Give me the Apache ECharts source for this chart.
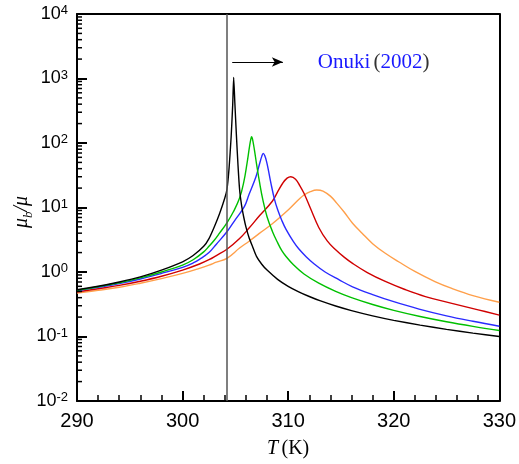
<!DOCTYPE html>
<html><head><meta charset="utf-8">
<script src="https://cdn.jsdelivr.net/npm/echarts@6/dist/echarts.min.js"></script>
<style>html,body{margin:0;padding:0;background:#fff}#c{width:519px;height:464px}#e{position:absolute;left:90px;top:350px;font:11px monospace;color:#c00;width:400px}</style>
</head><body><div id="c"></div><div id="e"></div>
<script>
window.onerror = function (m, s, l) { document.getElementById('e').textContent += ' ERR:' + m + ' @' + l; };
// ---- data (T in K, value mu_b/mu) ----
const blackT = [290,292,294,296,298,300,301,302,302.5,303,303.5,304,304.2,304.4,304.6,304.75,304.84,304.95,305.1,305.25,305.4,305.6,305.8,306,306.3,306.6,307,307.5,308,309,310,311,312,313,314.5,316,318,320,322.5,325,327.5,330];
const blackV = [0.53,0.60,0.70,0.84,1.07,1.44,1.8,2.5,3.3,5.0,8.0,14,19,40,125,400,1040,420,130,45,19,10.5,7.0,5.0,3.4,2.55,1.75,1.32,1.07,0.77,0.60,0.493,0.417,0.359,0.297,0.252,0.209,0.178,0.150,0.129,0.113,0.10];

const greenT = [290,292,294,296,298,300,301,302,302.5,303,303.5,304.2,304.8,305.4,305.8,306.1,306.35,306.47,306.54,306.62,306.8,307.0,307.3,307.6,308,308.5,309,309.4,309.8,310.5,311.5,312.9,314.5,316,318,320,322.5,325,327.5,330];
const greenV = [0.52,0.59,0.68,0.81,1.0,1.28,1.55,2.05,2.5,3.1,4.0,5.8,8.5,14,25,48,90,116,125,116,79,48,24,13.2,7.2,4.3,2.85,2.14,1.74,1.29,0.93,0.67,0.50,0.40,0.313,0.254,0.204,0.169,0.1435,0.124];

const blueT = [290,292,294,296,298,300,301,301.6,302.5,303.2,304.2,305,305.85,306.3,306.95,307.3,307.5,307.64,307.78,307.95,308.1,308.37,308.7,309,309.4,309.8,310.5,311,311.7,312.5,313.5,314.8,316.1,318,320,322.4,325,327.5,330];
const blueV = [0.51,0.58,0.66,0.78,0.95,1.18,1.38,1.57,2.0,2.7,4.2,6.5,10.3,16,30,48,62,69,64,52,40,23.7,13.5,9.3,6.3,4.57,2.95,2.29,1.73,1.32,1.0,0.76,0.59,0.447,0.347,0.266,0.209,0.172,0.144];

const redT = [290,292,294,296,298,300,301.6,302.5,303.2,304.2,305.4,306.3,307.3,308.5,309.0,309.5,309.9,310.25,310.7,311.1,311.5,312.1,312.9,313.7,314.5,315.3,316.1,317.5,319.2,321,323,325.5,328,330];
const redV = [0.49,0.55,0.62,0.72,0.86,1.07,1.33,1.55,1.8,2.25,3.3,4.8,7.5,12.5,17.5,24,28.5,30,27.5,21.9,16.6,9.8,4.9,3.03,2.21,1.70,1.36,0.98,0.713,0.54,0.416,0.327,0.259,0.215];

const orangeT = [290,292,294,296,298,300,301.6,302.5,303.2,304.2,305.4,306.3,307.3,308.5,310.1,311,311.5,312.1,312.7,313.3,314,314.6,315.3,316.1,317,318,319.2,320.5,322,323.9,325.5,327.5,330];
const orangeV = [0.47,0.52,0.58,0.67,0.79,0.95,1.14,1.28,1.42,1.63,2.35,3.0,4.0,5.6,9.5,13.3,15.6,17.6,18.7,18.0,15.0,11.7,8.5,5.7,4.0,2.75,1.95,1.43,1.02,0.71,0.556,0.431,0.34];

const Tc = 304.2;
const arrowFrom = [304.7, 1800];
const arrowTo = [309.5, 1800];
const noteAt = [312.8, 1800];

// ---- build ----
const pairs = (t, v) => t.map((x, i) => [x, v[i]]);
const minorVals = [];
for (let k = -2; k < 4; k++) for (let m = 2; m <= 9; m++) minorVals.push([290, m * Math.pow(10, k)]);

const sans = 'Liberation Sans, Arial, sans-serif';
const serif = 'Liberation Serif, Times New Roman, serif';

function line(data, color, sm) {
  return { type: 'line', data, symbol: 'none', smooth: sm, lineStyle: { color, width: 1.4 } };
}
const plainAxis = (pos, extra) => Object.assign({
  position: pos, axisLine: { show: true, onZero: false, lineStyle: { color: '#000', width: 2 } },
  axisTick: { show: false }, axisLabel: { show: false }, splitLine: { show: false }
}, extra);

const chart = echarts.init(document.getElementById('c'));
try {
chart.setOption({
  animation: false,
  grid: { left: 77, right: 18, top: 14, bottom: 63 },
  xAxis: [{
    type: 'value', min: 290, max: 330, interval: 10, position: 'bottom',
    axisLine: { show: true, onZero: false, lineStyle: { color: '#000', width: 2 } },
    axisTick: { show: true, inside: true, length: 10, lineStyle: { color: '#000', width: 2 } },
    minorTick: { show: true, splitNumber: 5, length: 6, lineStyle: { color: '#000', width: 1.5 } },
    splitLine: { show: false },
    axisLabel: { color: '#000', fontSize: 20, fontFamily: sans, margin: 10 }
  }, plainAxis('top', { type: 'value', min: 290, max: 330 })],
  yAxis: [{
    type: 'log', min: 0.01, max: 10000,
    axisLine: { show: true, onZero: false, lineStyle: { color: '#000', width: 2 } },
    axisTick: { show: true, inside: true, length: 10, lineStyle: { color: '#000', width: 2 } },
    splitLine: { show: false },
    axisLabel: {
      margin: 9,
      formatter: v => '{b|10}{s|' + Math.round(Math.log10(v)) + '}',
      rich: {
        b: { fontSize: 18, fontFamily: sans, color: '#000', lineHeight: 20, verticalAlign: 'middle' },
        s: { fontSize: 13, fontFamily: sans, color: '#000', lineHeight: 12, verticalAlign: 'top' }
      }
    }
  }, plainAxis('right', { type: 'log', min: 0.01, max: 10000 })],
  series: [
    line(pairs(orangeT, orangeV), '#ff9f4a', 0.4),
    line(pairs(redT, redV), '#d00000', 0.4),
    line(pairs(blueT, blueV), '#2a2aff', 0.4),
    line(pairs(greenT, greenV), '#00c000', 0.4),
    Object.assign(line(pairs(blackT, blackV), '#000', 0.2), {
      markLine: {
        silent: true, label: { show: false },
        data: [
          [{ xAxis: Tc, yAxis: 0.01, symbol: 'none' }, { xAxis: Tc, yAxis: 10000, symbol: 'none', lineStyle: { color: '#555', width: 1.5, type: 'solid' } }],
          [{ coord: arrowFrom, symbol: 'none' }, { coord: arrowTo, symbol: 'arrow', symbolSize: [7, 11], lineStyle: { color: '#000', width: 1.2, type: 'solid' } }]
        ],
        lineStyle: { color: '#000', type: 'solid' }
      }
    }),
    {
      type: 'custom', z: 10, data: minorVals,
      renderItem: function (params, api) {
        const p = api.coord([api.value(0), api.value(1)]);
        return { type: 'line', shape: { x1: p[0], y1: p[1], x2: p[0] + 5, y2: p[1] }, style: { stroke: '#000', lineWidth: 1.5 } };
      }
    }
  ]
});
const np = chart.convertToPixel({ gridIndex: 0 }, noteAt);
const xMid = chart.convertToPixel({ xAxisIndex: 0 }, 310);
chart.setOption({
  graphic: [
    { type: 'text', x: np[0], y: np[1], style: {
      text: '{b|Onuki} {k|(}{b|2002}{k|)}', align: 'left', verticalAlign: 'middle',
      rich: { b: { fontFamily: serif, fontSize: 21, fill: '#1a1aff' }, k: { fontFamily: serif, fontSize: 21, fill: '#333' } } } },
    { type: 'text', x: xMid, y: 449, style: {
      text: '{i|T} {n|(K)}', align: 'center', verticalAlign: 'middle',
      rich: { i: { fontFamily: serif, fontStyle: 'italic', fontSize: 20, fill: '#000' }, n: { fontFamily: serif, fontSize: 20, fill: '#000' } } } },
    { type: 'text', x: 22, y: 212, rotation: Math.PI / 2, style: {
      text: '{i|μ}{sub|b}{i|/μ}', align: 'center', verticalAlign: 'middle',
      rich: {
        i: { fontFamily: serif, fontStyle: 'italic', fontSize: 20, fill: '#000', lineHeight: 26, verticalAlign: 'middle' },
        sub: { fontFamily: serif, fontStyle: 'italic', fontSize: 13, fill: '#000', lineHeight: 13, verticalAlign: 'bottom' } } } }
  ]
});
} catch (err) { document.getElementById('e').textContent += ' CATCH:' + err.message; }
</script></body></html>
